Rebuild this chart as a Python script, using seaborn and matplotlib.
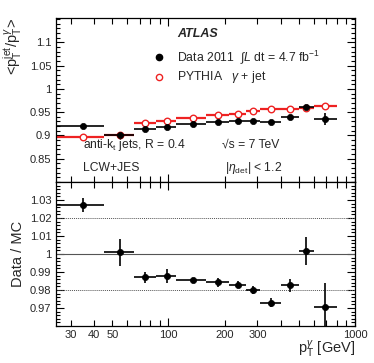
"""ATLAS gamma+jet response: data vs PYTHIA, with Data/MC ratio"""
import numpy as np
import matplotlib
matplotlib.use("Agg")
import matplotlib.pyplot as plt
import seaborn as sns
from matplotlib.ticker import FixedLocator, NullFormatter, MultipleLocator, FixedFormatter

# bin centres and edges in pT^gamma [GeV]
pt = [35, 55, 75, 98, 135, 185, 235, 285, 355, 448, 550, 693]
pt_lo = [25, 45, 65, 86, 110, 160, 210, 260, 310, 400, 500, 600]
pt_hi = [45, 65, 86, 110, 160, 210, 260, 310, 400, 500, 600, 800]

data_resp = [0.920, 0.901, 0.914, 0.918, 0.924, 0.929, 0.930, 0.932, 0.929, 0.939, 0.961, 0.936]
data_err = [0.001, 0.001, 0.001, 0.001, 0.001, 0.001, 0.001, 0.001, 0.0015, 0.002, 0.004, 0.0125]
mc_resp = [0.896, 0.900, 0.926, 0.931, 0.938, 0.943, 0.947, 0.952, 0.956, 0.956, 0.960, 0.964]

ratio = [1.0273, 1.0010, 0.9871, 0.9877, 0.9856, 0.9843, 0.9829, 0.9800, 0.9730, 0.9825, 1.0015, 0.9706]
ratio_err = [0.0040, 0.0074, 0.0030, 0.0040, 0.0010, 0.0025, 0.0020, 0.0022, 0.0025, 0.0035, 0.0077, 0.0135]

sns.set_theme(style="ticks")
plt.rcParams["font.family"] = ["Liberation Sans", "DejaVu Sans"]
plt.rcParams["mathtext.fontset"] = "custom"
plt.rcParams["mathtext.rm"] = "Liberation Sans"
plt.rcParams["mathtext.it"] = "Liberation Sans:italic"
plt.rcParams["mathtext.sf"] = "Liberation Sans"

x = np.array(pt)
xerr = np.array([x - np.array(pt_lo), np.array(pt_hi) - x])

fig = plt.figure(figsize=(3.74, 3.63), dpi=100)
ax1 = fig.add_axes([0.150, 0.4986, 0.799, 0.4514])
ax2 = fig.add_axes([0.150, 0.102, 0.799, 0.3966])

# ---- upper panel
ax1.errorbar(x, mc_resp, xerr=xerr, fmt="none", ecolor="#ee2222", elinewidth=1.6)
sns.scatterplot(x=x, y=mc_resp, ax=ax1, marker="o", s=22, facecolor="white",
                edgecolor="#ee2222", linewidth=1.0, zorder=3)
ax1.errorbar(x, data_resp, xerr=xerr, yerr=data_err, fmt="none", ecolor="black",
             elinewidth=1.2, zorder=4)
sns.scatterplot(x=x, y=data_resp, ax=ax1, marker="o", s=20, color="black",
                edgecolor="black", linewidth=0.5, zorder=5)

ax1.set_ylim(0.8, 1.152)
ax1.yaxis.set_major_locator(FixedLocator([0.85, 0.9, 0.95, 1.0, 1.05, 1.1]))
ax1.yaxis.set_minor_locator(MultipleLocator(0.01))
ax1.set_yticklabels(["0.85", "0.9", "0.95", "1", "1.05", "1.1"])
ax1.set_ylabel(r"<p$_\mathrm{T}^\mathrm{jet}$/p$_\mathrm{T}^{\gamma}$>", fontsize=10.5, loc="top")

ax1.text(0.405, 0.905, "ATLAS", transform=ax1.transAxes, fontsize=9,
         fontweight="bold", fontstyle="italic", va="center")
ax1.plot([0.345], [0.762], transform=ax1.transAxes, marker="o", ms=4.5, color="black")
ax1.text(0.405, 0.762, r"Data 2011  $\int$$L$ dt = 4.7 fb$^{-1}$", transform=ax1.transAxes,
         fontsize=8.8, va="center")
ax1.plot([0.345], [0.64], transform=ax1.transAxes, marker="o", ms=4.5, color="#ee2222",
         mfc="white", mew=1.0)
ax1.text(0.405, 0.64, r"PYTHIA   $\gamma$ + jet", transform=ax1.transAxes,
         fontsize=8.8, va="center")
ax1.text(0.09, 0.226, r"anti-k$_\mathrm{t}$ jets, R = 0.4", transform=ax1.transAxes,
         fontsize=8.7, va="center")
ax1.text(0.555, 0.226, "\u221as = 7 TeV", transform=ax1.transAxes,
         fontsize=8.7, va="center")
ax1.text(0.09, 0.085, "LCW+JES", transform=ax1.transAxes, fontsize=8.7, va="center")
ax1.text(0.565, 0.085, r"|$\eta_\mathrm{det}$| < 1.2", transform=ax1.transAxes,
         fontsize=8.7, va="center")

# ---- lower panel
ax2.axhline(1.0, color="#555555", lw=0.8, zorder=1)
ax2.axhline(1.02, color="#555555", lw=0.7, ls=(0, (1, 1)), zorder=1)
ax2.axhline(0.98, color="#555555", lw=0.7, ls=(0, (1, 1)), zorder=1)
ax2.errorbar(x, ratio, xerr=xerr, yerr=ratio_err, fmt="none", ecolor="black",
             elinewidth=1.2, zorder=4)
sns.scatterplot(x=x, y=ratio, ax=ax2, marker="o", s=20, color="black",
                edgecolor="black", linewidth=0.5, zorder=5)
ax2.set_ylim(0.96, 1.04)
ax2.yaxis.set_major_locator(FixedLocator([0.97, 0.98, 0.99, 1.0, 1.01, 1.02, 1.03]))
ax2.set_yticklabels(["0.97", "0.98", "0.99", "1", "1.01", "1.02", "1.03"])
ax2.yaxis.set_minor_locator(MultipleLocator(0.002))
ax2.set_ylabel("Data / MC", fontsize=10.5)
ax2.set_xlabel(r"p$_\mathrm{T}^{\gamma}$ [GeV]", fontsize=10.5, ha="right")
ax2.xaxis.set_label_coords(1.0, -0.085)

for ax in (ax1, ax2):
    ax.set_xscale("log")
    ax.set_xlim(25, 1000)
    ax.xaxis.set_major_locator(FixedLocator([100, 1000]))
    ax.xaxis.set_minor_locator(FixedLocator([30, 40, 50, 60, 70, 80, 90,
                                             200, 300, 400, 500, 600, 700, 800, 900]))
    ax.tick_params(which="both", direction="in", top=True, right=True,
                   labelsize=8, width=0.8, color="black")
    ax.tick_params(which="major", length=6)
    ax.tick_params(which="minor", length=3)
    ax.tick_params(axis="x", which="minor", length=4)
    for sp in ax.spines.values():
        sp.set_linewidth(0.9)
        sp.set_color("black")
    ax.set_facecolor("white")
    ax.yaxis.set_label_coords(-0.105, 1.0 if ax is ax1 else 0.5)

ax1.xaxis.set_major_formatter(NullFormatter())
ax1.xaxis.set_minor_formatter(NullFormatter())
ax2.xaxis.set_major_formatter(FixedFormatter(["100", "1000"]))
ax2.xaxis.set_minor_formatter(FixedFormatter(
    ["30", "40", "50", "", "", "", "", "200", "300", "", "", "", "", "", ""]))
ax2.tick_params(axis="x", which="both", pad=3)

fig.savefig("out.png", dpi=100)
